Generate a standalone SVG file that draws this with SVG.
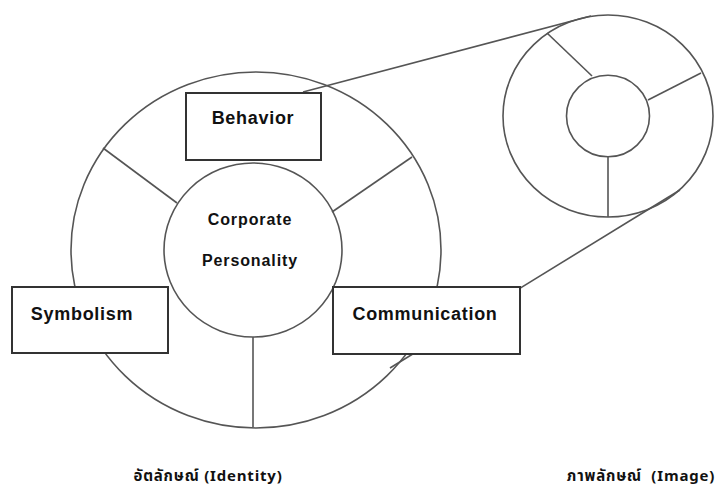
<svg xmlns="http://www.w3.org/2000/svg" width="724" height="490" viewBox="0 0 724 490">
<style>
.ln{fill:none;stroke:#555;stroke-width:1.6}
.box{fill:#fff;stroke:#333;stroke-width:2}
.lbl{font-family:"Liberation Sans",Arial,sans-serif;font-weight:bold;font-size:18px;letter-spacing:0.7px;fill:#111;text-anchor:middle}
.core{font-family:"Liberation Sans",Arial,sans-serif;font-weight:bold;font-size:16px;letter-spacing:0.9px;fill:#111;text-anchor:middle}
.cap{font-family:"Noto Sans Thai","Noto Sans","DejaVu Sans",sans-serif;font-weight:bold;font-size:15px;letter-spacing:0.8px;fill:#111;text-anchor:middle}
</style>
<rect width="724" height="490" fill="#fff"/>
<g id="connectors">
<line class="ln" x1="303" y1="92" x2="591" y2="16"/>
<line class="ln" x1="390" y1="368" x2="680" y2="190"/>
</g>
<g id="identity">
<ellipse class="ln" cx="256" cy="250" rx="185" ry="178"/>
<line class="ln" x1="103" y1="148" x2="177" y2="203"/>
<line class="ln" x1="412" y1="157" x2="332" y2="212"/>
<line class="ln" x1="253" y1="337" x2="253" y2="427"/>
</g>
<g id="corporate-personality">
<ellipse class="ln" cx="253" cy="250" rx="89" ry="87"/>
<text class="core" x="250" y="225">Corporate</text>
<text class="core" x="250" y="266">Personality</text>
</g>
<g id="behavior">
<rect class="box" x="186" y="93" width="135" height="67"/>
<text class="lbl" x="253" y="124">Behavior</text>
</g>
<g id="symbolism">
<rect class="box" x="12" y="287" width="156" height="66"/>
<text class="lbl" x="82" y="320">Symbolism</text>
</g>
<g id="communication">
<rect class="box" x="333" y="287" width="187" height="67"/>
<text class="lbl" x="425" y="320">Communication</text>
</g>
<g id="image">
<ellipse class="ln" cx="608" cy="116" rx="105" ry="101"/>
<ellipse class="ln" cx="608" cy="116" rx="41.5" ry="40.8"/>
<line class="ln" x1="592" y1="76" x2="547" y2="33"/>
<line class="ln" x1="648" y1="100" x2="701" y2="73"/>
<line class="ln" x1="608" y1="157" x2="608" y2="217"/>
</g>
<g id="captions">
<text class="cap" x="208" y="481">อัตลักษณ์ (Identity)</text>
<text class="cap" x="641" y="481">ภาพลักษณ์&#160;&#160;(Image)</text>
</g>
</svg>
